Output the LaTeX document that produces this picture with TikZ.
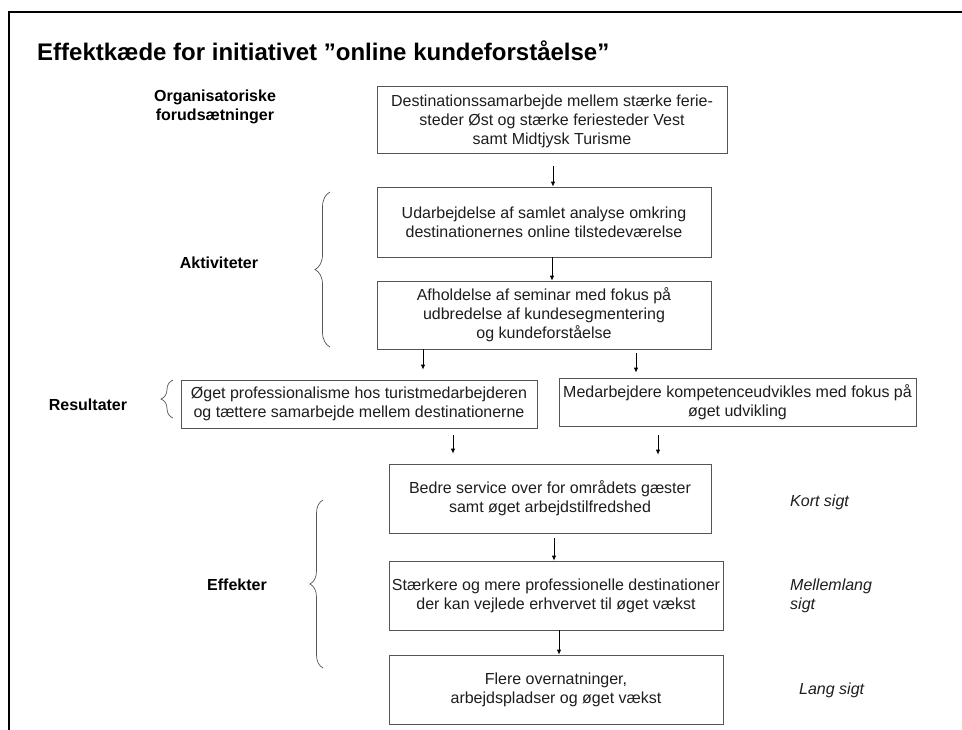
\documentclass[tikz,border=0pt]{standalone}
\usepackage{fontspec}
\setmainfont{Liberation Sans}
\usetikzlibrary{calc,arrows.meta,decorations.pathreplacing}
\definecolor{boxline}{RGB}{85,85,85}
\definecolor{txt}{RGB}{30,30,30}
\tikzset{
  box/.style={draw=boxline, line width=0.8pt, rectangle, inner sep=0pt, align=center,
    text=txt, font=\fontsize{16}{19}\selectfont},
  lbl/.style={inner sep=0pt, align=center, text=black, font=\fontsize{16}{19}\selectfont\bfseries},
  ital/.style={inner sep=0pt, align=left, text=txt, font=\fontsize{16}{19}\selectfont\itshape},
  arr/.style={draw=black, line width=0.8pt, -{Latex[length=5pt,width=4.5pt]}},
  brc/.style={draw=boxline, line width=0.7pt, decorate},
}
\begin{document}
\begin{tikzpicture}[x=1pt,y=-1pt]
\useasboundingbox (0,0) rectangle (962,729);
\fill[white] (0,0) rectangle (962,729);
% frame
\draw[line width=2pt, line cap=rect] (9,729) -- (9,12) -- (962,12);
% title
\node[anchor=base west, inner sep=0pt, font=\fontsize{24}{28}\selectfont\bfseries] (title) at (37,60)
  {Effektkæde for initiativet ”online kundeforståelse”};
% boxes
\node[box, minimum width=350pt, minimum height=67pt] (b1) at (552,119.5)
  {\rule{0pt}{16pt}Destinationssamarbejde mellem stærke ferie-\\steder Øst og stærke feriesteder Vest\\samt Midtjysk Turisme};
\node[box, minimum width=334pt, minimum height=70pt] (b2) at (544,222)
  {Udarbejdelse af samlet analyse omkring\\destinationernes online tilstedeværelse};
\node[box, minimum width=334pt, minimum height=68pt] (b3) at (544,315)
  {Afholdelse af seminar med fokus på\\udbredelse af kundesegmentering\\og kundeforståelse};
\node[box, minimum width=356pt, minimum height=48pt] (r1) at (359,404)
  {Øget professionalisme hos turistmedarbejderen\\og tættere samarbejde mellem destinationerne};
\node[box, minimum width=357pt, minimum height=48pt] (r2) at (737.5,402)
  {Medarbejdere kompetenceudvikles med fokus på\\øget udvikling};
\node[box, minimum width=322pt, minimum height=69pt] (e1) at (550,498.5)
  {Bedre service over for områdets gæster\\samt øget arbejdstilfredshed};
\node[box, minimum width=334pt, minimum height=69pt] (e2) at (556,595.5)
  {Stærkere og mere professionelle destinationer\\der kan vejlede erhvervet til øget vækst};
\node[box, minimum width=334pt, minimum height=69pt] (e3) at (556,689.5)
  {Flere overnatninger,\\arbejdspladser og øget vækst};
% left labels
\node[lbl] (org) at (215,107) {Organisatoriske\\forudsætninger};
\node[lbl] (akt) at (219,263) {Aktiviteter};
\node[lbl] (res) at (88,405) {Resultater};
\node[lbl] (eff) at (237,585) {Effekter};
% right labels
\node[ital, anchor=west] (kort) at (790,502) {Kort sigt};
\node[ital, anchor=west] (mell) at (790,595.5) {Mellemlang\\sigt};
\node[ital, anchor=west] (lang) at (799,690) {Lang sigt};
% braces
\draw[brc, decoration={brace, amplitude=15pt}] (330,347) -- (330,192);
\draw[brc, decoration={brace, amplitude=12pt}] (173,418) -- (173,380);
\draw[brc, decoration={brace, amplitude=13pt}] (323,668) -- (323,500);
% arrows
\draw[arr] ($(b1.south)+(1,13)$) -- ($(b2.north)+(9,0)$);
\draw[arr] ($(b2.south)+(8,0)$) -- ($(b3.north)+(8,0)$);
\draw[arr] ($(b3.south)+(-121,0)$) -- ($(r1.north)+(64,-10)$);
\draw[arr] ($(b3.south)+(92,4)$) -- ($(r2.north)+(-101.5,-5)$);
\draw[arr] ($(r1.south)+(94,7)$) -- ($(e1.north)+(-97,-10)$);
\draw[arr] ($(r2.south)+(-79.5,9)$) -- ($(e1.north)+(108,-9)$);
\draw[arr] ($(e1.south)+(4,5)$) -- ($(e2.north)+(-2,0)$);
\draw[arr] ($(e2.south)+(3,0)$) -- ($(e3.north)+(3,0)$);
\end{tikzpicture}
\end{document}
